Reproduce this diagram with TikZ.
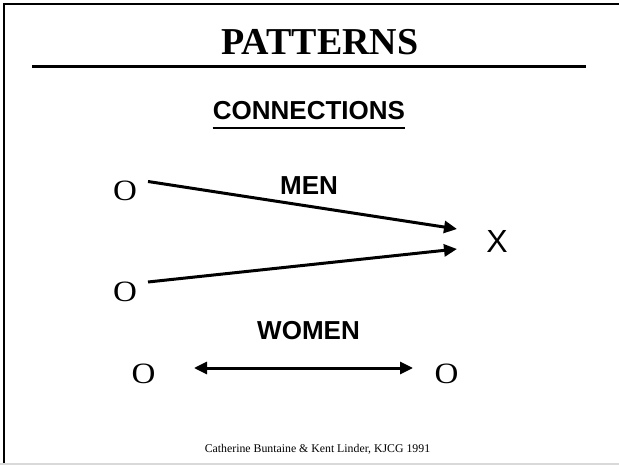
\documentclass[tikz,border=0pt]{standalone}
\usepackage{fontspec}
\setmainfont{Liberation Serif}
\newfontfamily\arialfont{Liberation Sans}
\usetikzlibrary{arrows.meta}
\begin{document}
\begin{tikzpicture}[x=1pt,y=-1pt,
  lbl/.style={inner sep=0pt, font=\arialfont\bfseries\fontsize{26}{26}\selectfont},
  circ/.style={inner sep=0pt, xscale=1.12, font=\fontsize{29.5}{30}\selectfont},
  conn/.style={line width=3pt, -{Triangle[length=13pt,width=12pt]}},
  dconn/.style={line width=3pt, {Triangle[length=13pt,width=12pt]}-{Triangle[length=13pt,width=12pt]}}]
\useasboundingbox (0,0) rectangle (619,465);
\fill[white] (0,0) rectangle (619,465);
% frame
\draw[line width=2.5pt] (4,463) -- (4,4) -- (619,4);
\draw[line width=2pt, color=black!15] (0,464) -- (619,464);
% title
\node[inner sep=0pt, anchor=base, font=\bfseries\fontsize{38}{38}\selectfont] (title) at (320,55) {PATTERNS};
\draw[line width=3pt] (32,67) -- (586,67);
\node[lbl, anchor=base] (sub) at (309,120) {CONNECTIONS};
\draw[line width=2pt] (sub.west |- 0,128) -- (sub.east |- 0,128);
% nodes
\node[circ] (o1) at (125,191) {O};
\node[circ] (o2) at (125,292) {O};
\node[inner sep=0pt, font=\arialfont\fontsize{32}{32}\selectfont] (x) at (497,241.5) {X};
\node[circ] (o3) at (143.5,374) {O};
\node[circ] (o4) at (446.5,374) {O};
\node[lbl] (men) at (309,186) {MEN};
\node[lbl] (women) at (308.5,331) {WOMEN};
% connectors
\coordinate (a1s) at (148,181.5);
\coordinate (a1e) at (457,229);
\coordinate (a2s) at (148,282);
\coordinate (a2e) at (457,249);
\coordinate (bs) at (194,368);
\coordinate (be) at (413,368);
\draw[conn] (a1s) -- (a1e);
\draw[conn] (a2s) -- (a2e);
\draw[dconn] (bs) -- (be);
% footer
\node[inner sep=0pt, anchor=base, font=\fontsize{11.8}{12}\selectfont] (foot) at (317.5,452) {Catherine Buntaine \& Kent Linder, KJCG 1991};
\end{tikzpicture}
\end{document}
